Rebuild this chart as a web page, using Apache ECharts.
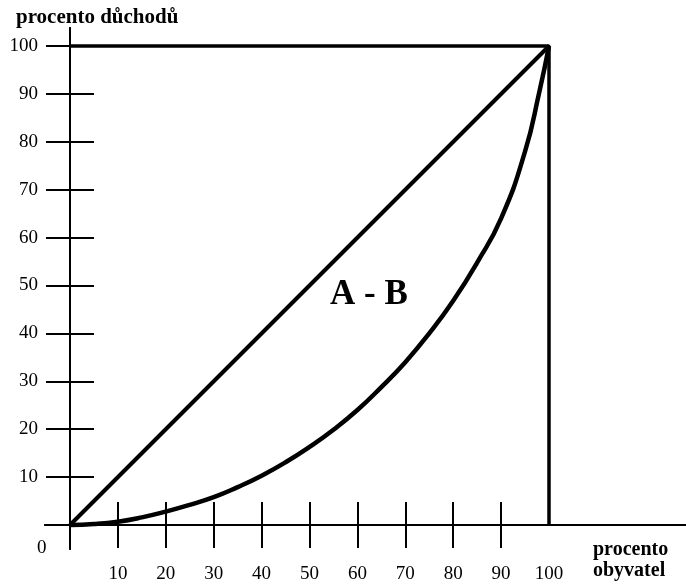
<!DOCTYPE html>
<html>
<head>
<meta charset="utf-8">
<script src="https://cdn.jsdelivr.net/npm/echarts@6/dist/echarts.min.js"></script>
<style>
  html, body { margin: 0; padding: 0; background: #fff; }
  #chart { width: 686px; height: 585px; }
</style>
</head>
<body>
<div id="chart"></div>
<script>
/* data */
const xTickValues = [10, 20, 30, 40, 50, 60, 70, 80, 90];
const xLabelValues = [10, 20, 30, 40, 50, 60, 70, 80, 90, 100];
const yTickValues = [10, 20, 30, 40, 50, 60, 70, 80, 90, 100];
const yLabelValues = [10, 20, 30, 40, 50, 60, 70, 80, 90, 100];
const populationPct = [0, 5, 10, 15, 20, 25, 30, 35, 40, 45, 50, 55, 60, 65, 70, 75, 80, 85, 90, 95, 98, 100];
const incomePct = [0, 0.2, 0.7, 1.6, 2.8, 4.2, 5.8, 7.9, 10.3, 13.1, 16.3, 19.9, 24.0, 28.8, 34.0, 40.0, 46.8, 54.8, 64.0, 78.0, 90.5, 100];
const equalityLine = [[0, 0], [100, 100]];
const boxLine = [[0, 100], [100, 100], [100, 0]];

const FONT = 'Liberation Serif';
const black = '#000';

const chart = echarts.init(document.getElementById('chart'));

/* labels are placed from the grid edge, ticks/line sit on zero */
function xAxisCfg(inside, showLabel) {
    return {
        type: 'value',
        position: 'bottom',
        offset: 0,
        min: -5.22,
        max: 128.6,
        splitLine: { show: false },
        axisLine: { onZero: true, onZeroAxisIndex: 0, lineStyle: { color: black, width: 2 } },
        axisTick: { customValues: xTickValues, inside: inside, length: 23, lineStyle: { color: black, width: 2 } },
        axisLabel: {
            show: showLabel,
            customValues: xLabelValues,
            margin: 16,
            fontFamily: FONT,
            fontSize: 19,
            color: black
        }
    };
}

function yAxisCfg(inside, showLabel) {
    return {
        type: 'value',
        position: 'left',
        offset: 0,
        min: -5.01,
        max: 103.76,
        splitLine: { show: false },
        axisLine: { onZero: true, onZeroAxisIndex: 0, lineStyle: { color: black, width: 2 } },
        axisTick: { customValues: yTickValues, inside: inside, length: 24, lineStyle: { color: black, width: 2 } },
        axisLabel: {
            show: showLabel,
            customValues: yLabelValues,
            margin: 7,
            fontFamily: FONT,
            fontSize: 19,
            color: black
        }
    };
}

const option = {
    animation: false,
    backgroundColor: '#fff',
    grid: { left: 45, right: 0, top: 28, bottom: 36, containLabel: false, outerBoundsMode: 'none' },
    xAxis: [xAxisCfg(true, true), xAxisCfg(false, false)],
    yAxis: [yAxisCfg(true, true), yAxisCfg(false, false)],
    series: [
        {
            name: 'lorenz',
            type: 'line',
            smooth: true,
            symbol: 'none',
            lineStyle: { color: black, width: 4.5 },
            data: populationPct.map((p, i) => [p, incomePct[i]])
        },
        {
            name: 'equality',
            type: 'line',
            symbol: 'none',
            lineStyle: { color: black, width: 4 },
            data: equalityLine
        },
        {
            name: 'box',
            type: 'line',
            symbol: 'none',
            lineStyle: { color: black, width: 3.5 },
            data: boxLine
        }
    ],
    graphic: [
        {
            type: 'text',
            left: 16, top: 7,
            style: { text: 'procento důchodů', font: 'bold 21px "Liberation Serif"', fill: black }
        },
        {
            type: 'text',
            left: 37, top: 539,
            style: { text: '0', font: '19px "Liberation Serif"', fill: black }
        },
        {
            type: 'text',
            left: 593, top: 539,
            style: { text: 'procento\nobyvatel', font: 'bold 20px "Liberation Serif"', lineHeight: 21, fill: black }
        },
        {
            type: 'text',
            left: 330, top: 277,
            style: { text: 'A - B', font: 'bold 35px "Liberation Serif"', fill: black }
        }
    ]
};

chart.setOption(option);
</script>
</body>
</html>
